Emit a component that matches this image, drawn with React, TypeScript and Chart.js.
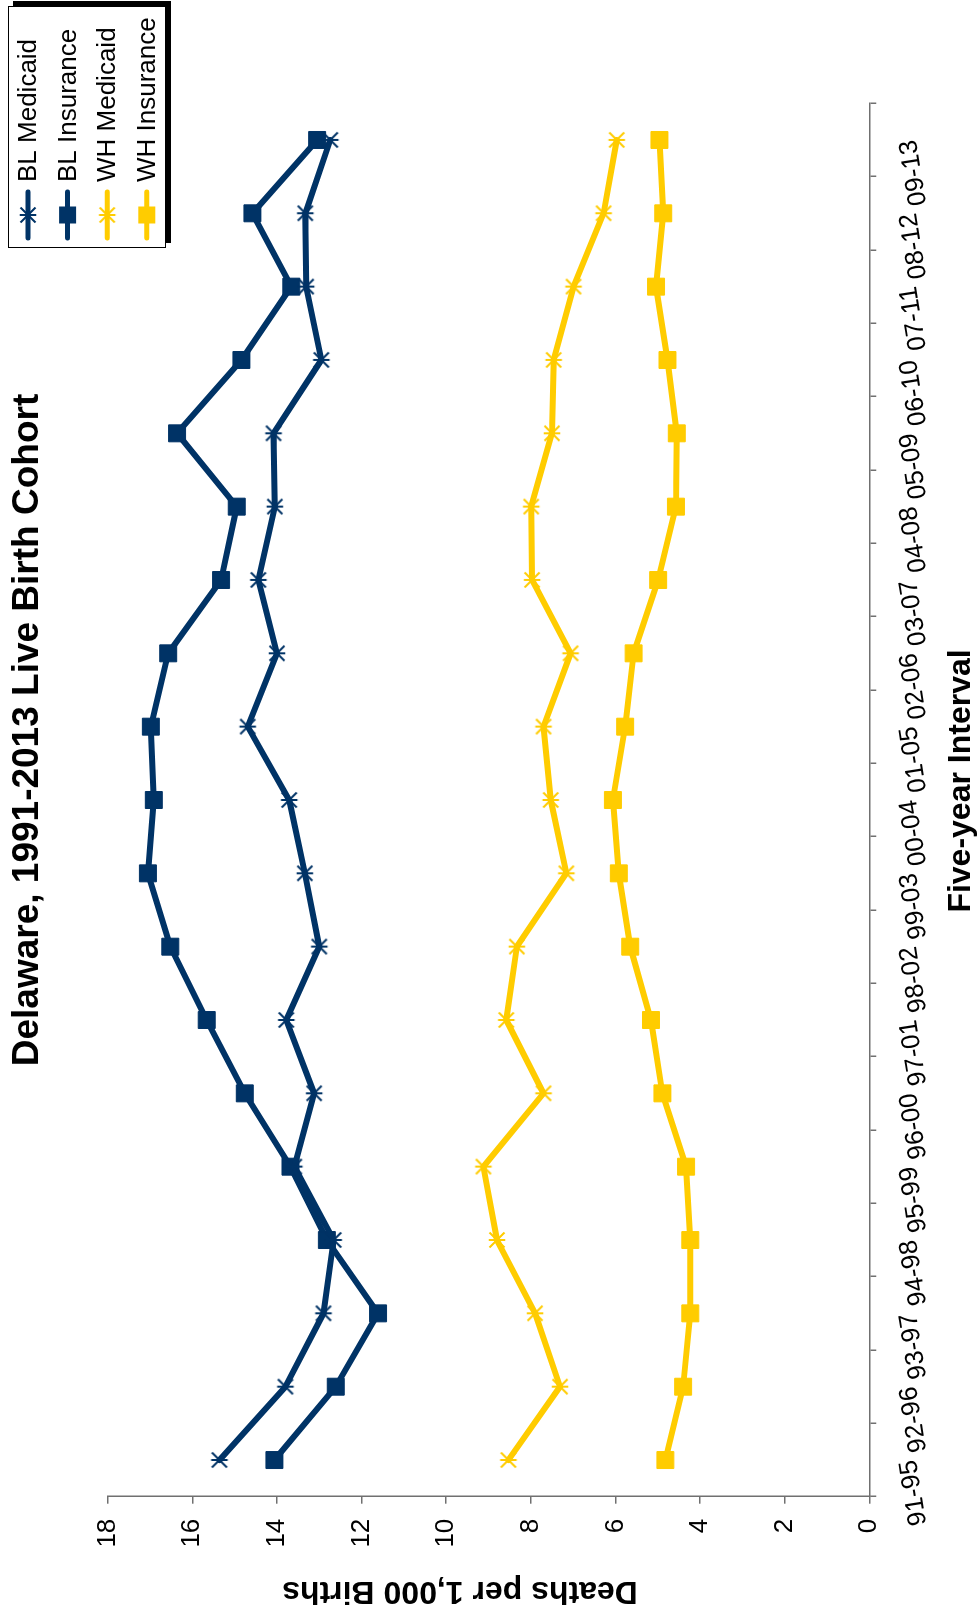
import React, { useEffect, useRef } from 'react';
import { Chart, registerables } from 'chart.js';

Chart.register(...registerables);

const categories = ['91-95', '92-96', '93-97', '94-98', '95-99', '96-00', '97-01', '98-02', '99-03', '00-04', '01-05', '02-06', '03-07', '04-08', '05-09', '06-10', '07-11', '08-12', '09-13'];

const blMedicaid = [15.36, 13.8, 12.9, 12.66, 13.59, 13.12, 13.78, 13.0, 13.34, 13.71, 14.69, 14.0, 14.44, 14.05, 14.08, 12.95, 13.31, 13.33, 12.74];
const blInsurance = [14.06, 12.61, 11.61, 12.82, 13.68, 14.76, 15.66, 16.52, 17.05, 16.91, 16.98, 16.57, 15.32, 14.95, 16.36, 14.84, 13.66, 14.58, 13.05];
const whMedicaid = [8.53, 7.31, 7.9, 8.8, 9.12, 7.7, 8.58, 8.33, 7.16, 7.53, 7.7, 7.06, 7.97, 7.99, 7.5, 7.46, 6.99, 6.28, 5.97];
const whInsurance = [4.82, 4.4, 4.23, 4.23, 4.33, 4.89, 5.16, 5.65, 5.92, 6.06, 5.77, 5.57, 4.99, 4.57, 4.55, 4.77, 5.04, 4.87, 4.96];

const seriesNames = ['BL Medicaid', 'BL Insurance', 'WH Medicaid', 'WH Insurance'];

const valueMin = 0;
const valueMax = 18;
const valueStep = 2;

const TITLE = 'Delaware, 1991-2013 Live Birth Cohort';
const X_TITLE = 'Five-year Interval';
const Y_TITLE = 'Deaths per 1,000 Births';

const NAVY = '#003366';
const YELLOW = '#FFCC00';
const AXIS = '#707070';
const FONT = '"Liberation Sans", Arial, Helvetica, sans-serif';

const W = 1620;
const H = 977;

function makeAsterisk(color: string): HTMLCanvasElement {
  const size = 20;
  const c = document.createElement('canvas');
  c.width = size;
  c.height = size;
  const g = c.getContext('2d')!;
  const m = size / 2;
  const a = 7.5;
  const v = 8.3;
  g.strokeStyle = color;
  g.lineWidth = 2;
  g.beginPath();
  g.moveTo(m - a, m - a);
  g.lineTo(m + a, m + a);
  g.moveTo(m + a, m - a);
  g.lineTo(m - a, m + a);
  g.moveTo(m, m - v);
  g.lineTo(m, m + v);
  g.stroke();
  return c;
}

const overlayPlugin = {
  id: 'overlay',
  afterDraw(chart: any) {
    const ctx: CanvasRenderingContext2D = chart.ctx;
    ctx.save();
    ctx.fillStyle = '#000';
    ctx.textAlign = 'center';
    ctx.textBaseline = 'alphabetic';

    // Chart title
    ctx.font = `bold 37px ${FONT}`;
    ctx.fillText(TITLE, 890, 38);

    // Category axis title
    ctx.font = `bold 32px ${FONT}`;
    ctx.fillText(X_TITLE, 839, 970);

    // Value axis title
    ctx.save();
    ctx.translate(38, 460);
    ctx.rotate(-Math.PI / 2);
    ctx.fillText(Y_TITLE, 0, 0);
    ctx.restore();

    // Legend
    const bx = 1372;
    const by = 8;
    const bw = 242;
    const bh = 158;
    ctx.fillStyle = '#000';
    ctx.fillRect(bx + 5, by + 5, bw, bh);
    ctx.fillStyle = '#fff';
    ctx.fillRect(bx, by, bw, bh);
    ctx.strokeStyle = '#000';
    ctx.lineWidth = 1;
    ctx.strokeRect(bx + 0.5, by + 0.5, bw - 1, bh - 1);

    ctx.font = `26px ${FONT}`;
    ctx.textAlign = 'left';
    ctx.textBaseline = 'middle';
    chart.data.datasets.forEach((ds: any, i: number) => {
      const y = 28 + i * 39.6;
      ctx.strokeStyle = ds.borderColor;
      ctx.lineWidth = 5;
      ctx.lineCap = 'round';
      ctx.beginPath();
      ctx.moveTo(1382, y);
      ctx.lineTo(1428, y);
      ctx.stroke();
      const ps = ds.pointStyle;
      if (ps === 'rect') {
        ctx.fillStyle = ds.borderColor;
        ctx.fillRect(1405 - 8.5, y - 8.5, 17, 17);
      } else if (ps && typeof ps === 'object') {
        ctx.drawImage(ps, 1405 - ps.width / 2, y - ps.height / 2);
      }
      ctx.fillStyle = '#000';
      ctx.fillText(ds.label, 1438, y + 1);
    });

    ctx.restore();
  },
};

export default function App() {
  const ref = useRef<HTMLCanvasElement>(null);

  useEffect(() => {
    const navyStar = makeAsterisk(NAVY);
    const yellowStar = makeAsterisk(YELLOW);
    const seriesValues = [blMedicaid, blInsurance, whMedicaid, whInsurance];
    const colors = [NAVY, NAVY, YELLOW, YELLOW];
    const styles: any[] = [navyStar, 'rect', yellowStar, 'rect'];

    const datasets = seriesValues.map((vals, i) => ({
      label: seriesNames[i],
      data: vals,
      borderColor: colors[i],
      backgroundColor: colors[i],
      pointBackgroundColor: colors[i],
      pointBorderColor: colors[i],
      pointStyle: styles[i],
      pointRadius: styles[i] === 'rect' ? 12 : 9,
      pointBorderWidth: 1,
      borderWidth: 6,
      borderJoinStyle: 'round' as const,
      borderCapStyle: 'round' as const,
      tension: 0,
      fill: false,
    }));

    const chart = new Chart(ref.current!, {
      type: 'line',
      data: { labels: categories, datasets },
      options: {
        responsive: false,
        animation: false,
        devicePixelRatio: 1,
        layout: { padding: { left: 0, right: 103.3, top: 107.7, bottom: 0 } },
        plugins: {
          legend: { display: false },
          title: { display: false },
          tooltip: { enabled: false },
        },
        scales: {
          x: {
            type: 'category',
            offset: true,
            grid: {
              offset: true,
              drawOnChartArea: false,
              drawTicks: true,
              tickLength: 7,
              color: AXIS,
              lineWidth: 1.5,
            },
            border: { display: true, color: AXIS, width: 1.5 },
            ticks: {
              autoSkip: false,
              minRotation: 9,
              maxRotation: 9,
              padding: 17,
              color: '#000',
              font: { family: FONT, size: 26 },
            },
            afterFit: (s: any) => {
              s.height = 107.7;
            },
          },
          y: {
            min: valueMin,
            max: valueMax,
            grid: {
              drawOnChartArea: false,
              drawTicks: true,
              tickLength: 7,
              color: AXIS,
              lineWidth: 1.5,
            },
            border: { display: true, color: AXIS, width: 1.5 },
            ticks: {
              stepSize: valueStep,
              padding: 15,
              color: '#000',
              font: { family: FONT, size: 26 },
            },
            afterFit: (s: any) => {
              s.width = 123.3;
            },
          },
        },
      },
      plugins: [overlayPlugin],
    });
    return () => chart.destroy();
  }, []);

  return (
    <div style={{ position: 'absolute', left: 0, top: 0, width: 977, height: 1620, overflow: 'hidden', background: '#fff' }}>
      <div
        style={{
          position: 'absolute',
          left: 0,
          top: 0,
          width: W,
          height: H,
          transformOrigin: '0 0',
          transform: `translate(0px, ${W}px) rotate(-90deg)`,
        }}
      >
        <canvas ref={ref} width={W} height={H} style={{ display: 'block', width: W, height: H }} />
      </div>
    </div>
  );
}
